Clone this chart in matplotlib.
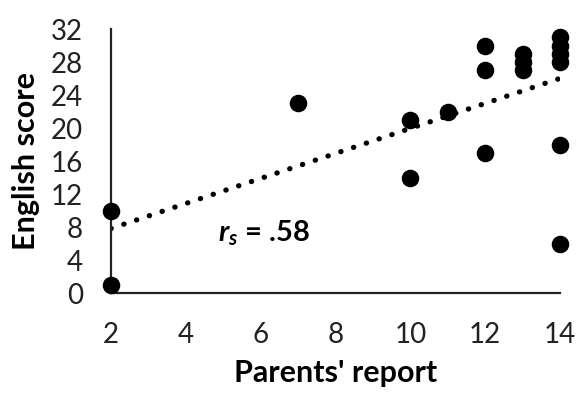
import matplotlib
matplotlib.use("Agg")
import matplotlib.pyplot as plt
import numpy as np

# datos
parents_report = [2, 2, 7, 10, 10, 11, 12, 12, 12, 13, 13, 13, 14, 14, 14, 14, 14, 14]
english_score = [10, 1, 23, 21, 14, 22, 30, 27, 17, 27, 28, 29, 31, 30, 29, 28, 18, 6]
x_ticks = [2, 4, 6, 8, 10, 12, 14]
y_ticks = [0, 4, 8, 12, 16, 20, 24, 28, 32]
rs_label = "$r_s$ = .58"

plt.rcParams["font.family"] = ["Lato", "DejaVu Sans"]
plt.rcParams["mathtext.fontset"] = "custom"
plt.rcParams["mathtext.it"] = "Lato:bold:italic"
plt.rcParams["mathtext.rm"] = "Lato:bold"

fig = plt.figure(figsize=(5.76, 3.94), dpi=100)
ax = fig.add_axes([0.1927, 0.2563, 0.7795, 0.6700])

ax.scatter(parents_report, english_score, s=135, color="black", zorder=3, clip_on=False)

# línea de tendencia lineal
pend, inter = np.polyfit(parents_report, english_score, 1)
xs = np.array([x_ticks[0], x_ticks[-1]])
ax.plot(xs, pend * xs + inter, color="black", linewidth=3.8,
        linestyle=(0, (0.05, 2.5)), dash_capstyle="round", zorder=2)

ax.set_xlim(x_ticks[0], x_ticks[-1])
ax.set_ylim(y_ticks[0], y_ticks[-1])
ax.set_xticks(x_ticks)
ax.set_yticks(y_ticks)
ax.tick_params(length=0, labelsize=20, colors="#222222")
ax.tick_params(axis="x", pad=21)
ax.tick_params(axis="y", pad=20)

for s in ["top", "right"]:
    ax.spines[s].set_visible(False)
for s in ["left", "bottom"]:
    ax.spines[s].set_linewidth(1.6)
    ax.spines[s].set_color("#222222")

ax.set_xlabel("Parents' report", fontsize=22, fontweight="bold", labelpad=8)
ax.set_ylabel("English score", fontsize=22, fontweight="bold", labelpad=8)

ax.text(4.85, 7.3, rs_label, fontsize=21, fontweight="bold", ha="left", va="center")

fig.savefig("out.png", dpi=100)
